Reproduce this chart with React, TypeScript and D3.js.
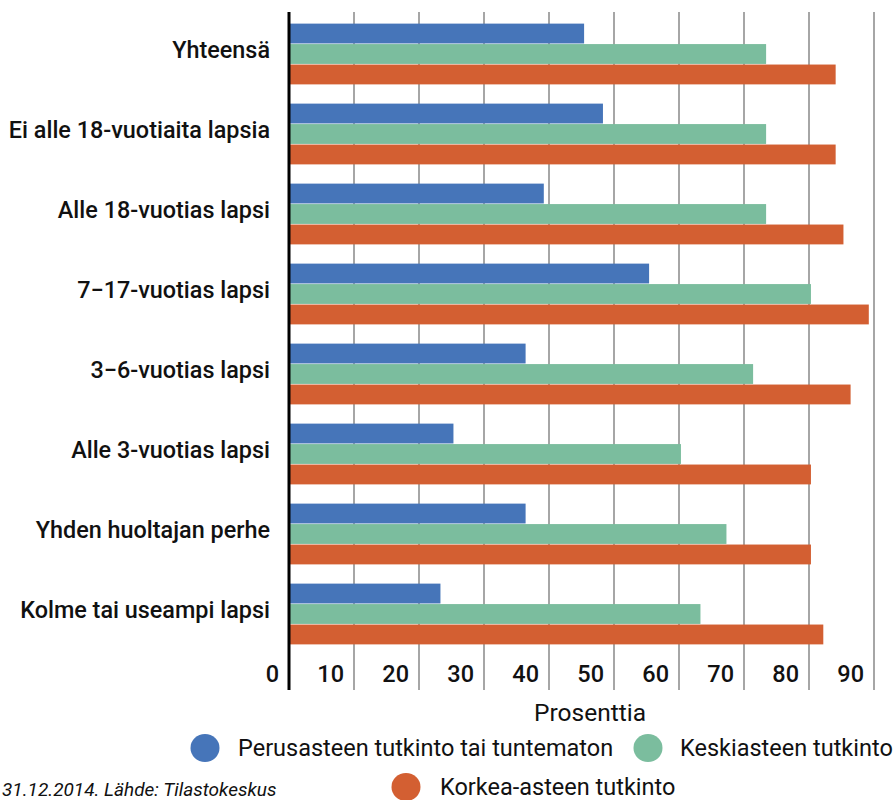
import React from "react";
import * as d3 from "d3";

const categories = [
  "Yhteensä",
  "Ei alle 18-vuotiaita lapsia",
  "Alle 18-vuotias lapsi",
  "7−17-vuotias lapsi",
  "3−6-vuotias lapsi",
  "Alle 3-vuotias lapsi",
  "Yhden huoltajan perhe",
  "Kolme tai useampi lapsi",
];
const seriesNames = [
  "Perusasteen tutkinto tai tuntematon",
  "Keskiasteen tutkinto",
  "Korkea-asteen tutkinto",
];
const perusaste = [45.4, 48.3, 39.2, 55.4, 36.4, 25.3, 36.4, 23.3];
const keskiaste = [73.4, 73.4, 73.4, 80.3, 71.4, 60.3, 67.3, 63.3];
const korkeaaste = [84.1, 84.1, 85.3, 89.2, 86.4, 80.3, 80.3, 82.2];
const seriesValues = [perusaste, keskiaste, korkeaaste];
const colors = ["#4675b9", "#7bbd9e", "#d35f32"];
const ticks = [0, 10, 20, 30, 40, 50, 60, 70, 80, 90];
const xTitle = "Prosenttia";
const footnote = "31.12.2014. Lähde: Tilastokeskus";

export default function App() {
  const W = 895;
  const H = 800;
  const x = d3.scaleLinear().domain([0, 90]).range([289, 874]);
  const y = d3
    .scaleBand<string>()
    .domain(categories)
    .range([14, 654])
    .paddingInner(0.225)
    .paddingOuter(0.1125);
  const inner = d3
    .scaleBand<number>()
    .domain([0, 1, 2])
    .range([0, y.bandwidth()])
    .padding(0.03);
  const font = "Roboto, 'Noto Sans', sans-serif";
  const gridTop = 12;
  const gridBottom = 690;

  return (
    <svg
      width={W}
      height={H}
      style={{ position: "absolute", left: 0, top: 0, background: "#fff" }}
      fontFamily={font}
    >
      {ticks.slice(1).map((t) => (
        <line
          key={"g" + t}
          x1={x(t)}
          x2={x(t)}
          y1={gridTop}
          y2={gridBottom}
          stroke="#a6a6a6"
          strokeWidth={2}
        />
      ))}
      {categories.map((c, i) =>
        seriesValues.map((vals, s) => (
          <rect
            key={c + s}
            x={x(0)}
            y={(y(c) as number) + (inner(s) as number)}
            width={x(vals[i]) - x(0)}
            height={inner.bandwidth()}
            fill={colors[s]}
          />
        ))
      )}
      <line
        x1={x(0)}
        x2={x(0)}
        y1={gridTop}
        y2={gridBottom}
        stroke="#000"
        strokeWidth={3}
      />
      {categories.map((c) => (
        <text
          key={"l" + c}
          x={270}
          y={(y(c) as number) + y.bandwidth() / 2 + 4}
          textAnchor="end"
          fontSize={23.4}
          fontWeight={500}
          fill="#111"
        >
          {c}
        </text>
      ))}
      {ticks.map((t) => (
        <text
          key={"t" + t}
          x={x(t) - 10}
          y={682}
          textAnchor="end"
          fontSize={23.5}
          fontWeight={500}
          fill="#111"
        >
          {t}
        </text>
      ))}
      <text x={590} y={721} textAnchor="middle" fontSize={24.5} fill="#111">
        {xTitle}
      </text>
      {[
        { cx: 205, cy: 748, tx: 238 },
        { cx: 648, cy: 748, tx: 680 },
        { cx: 406, cy: 787, tx: 440 },
      ].map((p, i) => (
        <g key={"lg" + i}>
          <ellipse cx={p.cx} cy={p.cy} rx={14.5} ry={14} fill={colors[i]} />
          <text x={p.tx} y={p.cy + 8} fontSize={23.5} fill="#111">
            {seriesNames[i]}
          </text>
        </g>
      ))}
      <text x={2} y={796} fontSize={19} fontStyle="italic" fill="#111">
        {footnote}
      </text>
    </svg>
  );
}
